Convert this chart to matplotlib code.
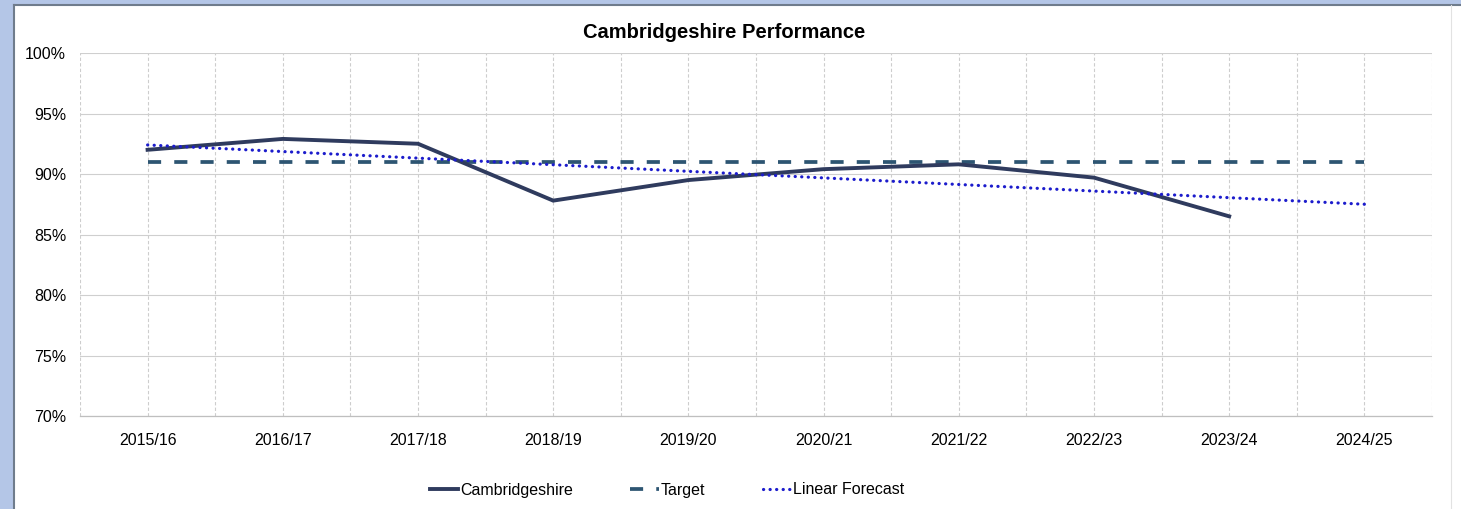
import matplotlib.pyplot as plt
from matplotlib.patches import Rectangle
from matplotlib.lines import Line2D
from matplotlib.ticker import FuncFormatter, MultipleLocator

plt.rcParams['font.family'] = ['Liberation Sans', 'DejaVu Sans']

years = ['2015/16', '2016/17', '2017/18', '2018/19', '2019/20',
         '2020/21', '2021/22', '2022/23', '2023/24', '2024/25']
cambs = [92.0, 92.9, 92.5, 87.8, 89.5, 90.4, 90.8, 89.7, 86.5]
target = [91.0] * 10
forecast_years = ['2015/16', '2024/25']
forecast = [92.4, 87.5]

W, H = 1461, 509
fig = plt.figure(figsize=(W / 100, H / 100), dpi=100)
fig.patch.set_facecolor('white')

# window background strips and the chart box edge
fig.patches.append(Rectangle((0, 0), 13 / W, 1, transform=fig.transFigure,
                             facecolor='#B4C6E7', edgecolor='none', zorder=0))
fig.patches.append(Rectangle((0, 1 - 4 / H), 1, 4 / H, transform=fig.transFigure,
                             facecolor='#B4C6E7', edgecolor='none', zorder=0))
fig.lines.append(Line2D([13.5 / W, 13.5 / W], [0, 1 - 4.5 / H], transform=fig.transFigure,
                        color='#6F7C8C', lw=1.5))
fig.lines.append(Line2D([13.5 / W, 1], [1 - 4.5 / H, 1 - 4.5 / H], transform=fig.transFigure,
                        color='#6F7C8C', lw=1.5))
fig.lines.append(Line2D([1450.5 / W, 1450.5 / W], [0, 1 - 5 / H], transform=fig.transFigure,
                        color='#E2E2E2', lw=0.8))

ax = fig.add_axes([80 / W, 1 - 416 / H, (1432 - 80) / W, (416 - 53) / H])

pos = {y: i for i, y in enumerate(years)}
ax.plot([pos[y] for y in years[:len(cambs)]], cambs, color='#2F3B5E', lw=2.8,
        label='Cambridgeshire', zorder=4, solid_joinstyle='miter')
ax.plot([pos[y] for y in years], target, color='#2D5572', lw=2.7,
        dashes=(3.5, 3.5), label='Target', zorder=3)
ax.plot([pos[y] for y in forecast_years], forecast, color='#1C1CCC', lw=2.3,
        dashes=(0.05, 2.0), dash_capstyle='round', label='Linear Forecast', zorder=5)

ax.set_xlim(-0.5, 9.5)
ax.set_ylim(70, 100)
ax.set_xticks(range(len(years)))
ax.set_xticklabels(years)
ax.xaxis.set_minor_locator(MultipleLocator(0.5))
ax.yaxis.set_major_locator(MultipleLocator(5))
ax.yaxis.set_major_formatter(FuncFormatter(lambda v, p: f'{v:.0f}%'))
ax.tick_params(axis='both', which='both', length=0, labelsize=11.5, colors='black')
ax.tick_params(axis='x', pad=12)
ax.tick_params(axis='y', pad=10)

ax.grid(axis='x', which='both', color='#CDCDCD', lw=0.8, ls=(0, (3, 2)))
ax.grid(axis='y', which='major', color='#CFCFCF', lw=0.8, ls='-')
for side in ['left', 'right', 'top']:
    ax.spines[side].set_visible(False)
ax.spines['bottom'].set_color('#BFBFBF')
ax.spines['bottom'].set_linewidth(0.9)
ax.set_axisbelow(True)

fig.text(724 / W, 1 - 33 / H, 'Cambridgeshire Performance', ha='center', va='center',
         fontsize=14.5, fontweight='bold')

fig.legend(loc='center', bbox_to_anchor=(667 / W, 1 - 490 / H), ncol=3, frameon=False,
           fontsize=11.5, handlelength=1.8, handletextpad=0.1, columnspacing=3.6)

fig.savefig('out.png', dpi=100, facecolor=fig.get_facecolor())
